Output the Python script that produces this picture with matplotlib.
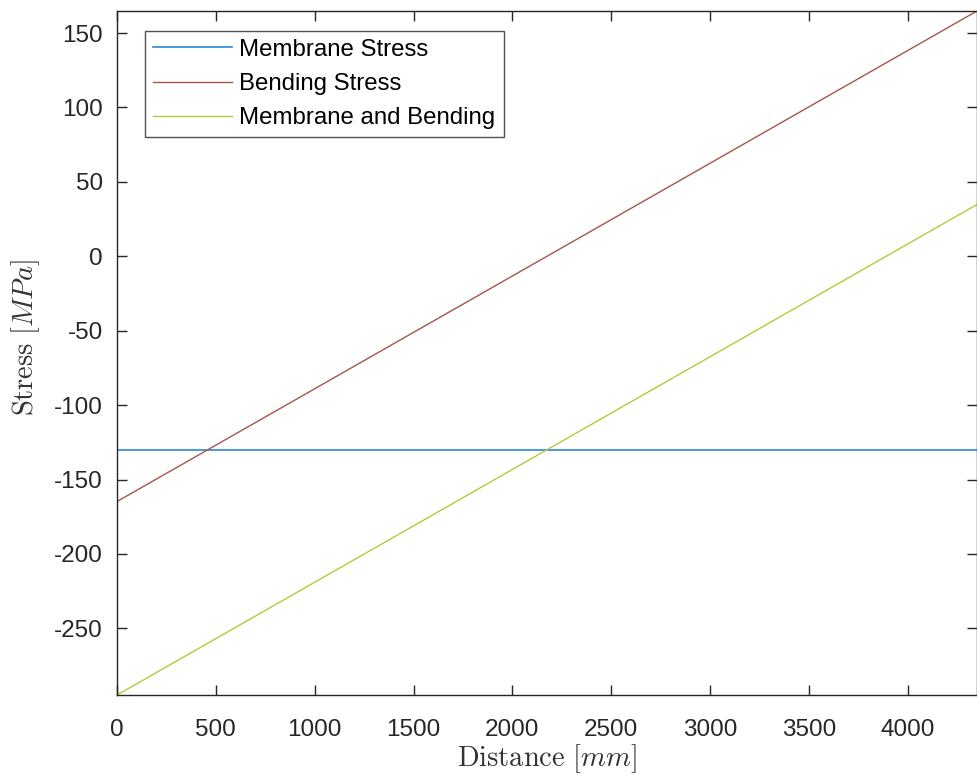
import matplotlib.pyplot as plt
import numpy as np

plt.rcParams['font.family'] = ['Liberation Sans', 'DejaVu Sans']
plt.rcParams['mathtext.fontset'] = 'cm'
plt.rcParams['axes.unicode_minus'] = False

# Stress along the plate (end points of each straight line)
distance = [0, 4350]
membrane = [-130.0, -130.0]
bending = [-164.8, 164.8]
combined = [-294.8, 34.8]

fig = plt.figure(figsize=(9.78, 7.75), dpi=100)
ax = fig.add_axes([117 / 978, 1 - 695 / 775, (977 - 117) / 978, (695 - 11) / 775])

ax.plot(distance, membrane, color='#2a8ad4', lw=1.2, label='Membrane Stress')
ax.plot(distance, bending, color='#a4564c', lw=1.0, label='Bending Stress')
ax.plot(distance, combined, color='#b8c83a', lw=1.0, label='Membrane and Bending')

ax.set_xlim(0, 4350)
ax.set_ylim(-294.8, 164.8)
ax.set_xticks(np.arange(0, 4001, 500))
ax.set_yticks(np.arange(-250, 151, 50))
ax.tick_params(direction='in', length=7, width=1, top=True, right=True,
               labelsize=17.5, colors='#262626')
ax.tick_params(axis='x', pad=17)
ax.tick_params(axis='y', pad=10)
for s in ax.spines.values():
    s.set_linewidth(1.0)
    s.set_color('#262626')

ax.set_xlabel(r'$\mathrm{Distance}\ [mm]$', fontsize=20.5, color='#333333')
ax.set_ylabel(r'$\mathrm{Stress}\ [MPa]$', fontsize=20.5, color='#333333')
ax.xaxis.set_label_coords(0.5, -0.069)
ax.yaxis.set_label_coords(-0.087, 0.523)

leg = ax.legend(loc='upper left', bbox_to_anchor=(0.0326, 0.9708), fontsize=17.3,
                frameon=True, fancybox=False, edgecolor='#262626',
                handlelength=3.3, handletextpad=0.3, borderpad=0.33,
                labelspacing=0.5, borderaxespad=0)
leg.get_frame().set_linewidth(1.0)

fig.savefig('out.png', dpi=100)
